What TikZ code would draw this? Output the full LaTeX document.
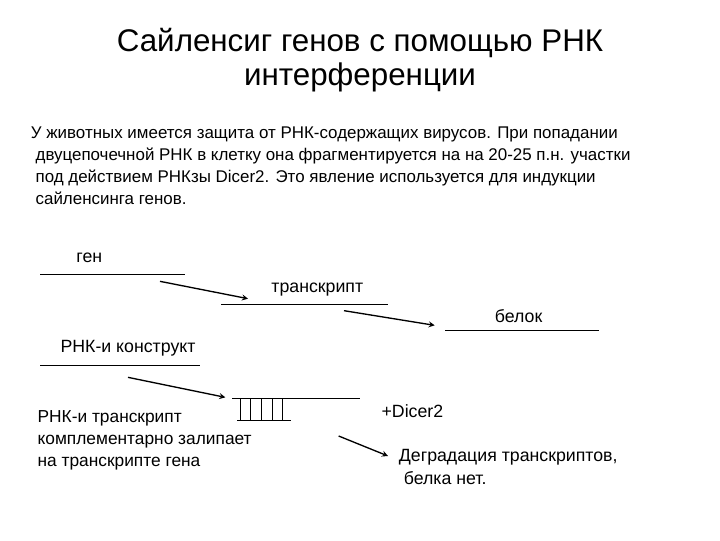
\documentclass[tikz,border=0pt]{standalone}
\usepackage{fontspec}
\setmainfont{Liberation Sans}
\begin{document}
\begin{tikzpicture}[x=1pt,y=-1pt,
  lbl/.style={inner sep=0pt,font=\fontsize{13.3}{16}\selectfont},
  ln/.style={line width=0.6pt},
  arr/.style={line width=1pt,-stealth}]
\useasboundingbox (0,0) rectangle (540,405);
\node[inner sep=0pt,align=center,font=\fontsize{23.5}{25}\selectfont] (title) at (270,45) {Сайленсиг генов с помощью РНК\\интерференции};
\node[inner sep=0pt,anchor=north west,align=left,font=\fontsize{12.7}{16.5}\selectfont] (body) at (23,95) {У животных имеется защита от РНК-содержащих вирусов. При попадании\\
\ двуцепочечной РНК в клетку она фрагментируется на на 20-25 п.н. участки\\
\ под действием РНКзы Dicer2. Это явление используется для индукции\\
\ сайленсинга генов.};
\node[lbl] (gen) at (67,193) {ген};
\coordinate (g1) at (30,206); \coordinate (g2) at (139,206);
\draw[ln] (g1) -- (g2);
\coordinate (a1s) at (120,211); \coordinate (a1e) at (186,224);
\draw[arr] (a1s) -- (a1e);
\node[lbl] (tr) at (238,217) {транскрипт};
\coordinate (t1) at (166,228); \coordinate (t2) at (291,228);
\draw[ln] (t1) -- (t2);
\coordinate (a2s) at (258,233); \coordinate (a2e) at (326,244);
\draw[arr] (a2s) -- (a2e);
\node[lbl] (bel) at (389,237) {белок};
\coordinate (b1) at (334,248); \coordinate (b2) at (449,248);
\draw[ln] (b1) -- (b2);
\node[lbl] (rk) at (96,261) {РНК-и конструкт};
\coordinate (r1) at (30,274); \coordinate (r2) at (150,274);
\draw[ln] (r1) -- (r2);
\coordinate (a3s) at (96,283); \coordinate (a3e) at (169,298);
\draw[arr] (a3s) -- (a3e);
\coordinate (d1) at (174,299); \coordinate (d2) at (270,299);
\coordinate (d3) at (178,315); \coordinate (d4) at (218,315);
\draw[ln] (d1) -- (d2);
\draw[ln] (d3) -- (d4);
\foreach \x in {180,188,196,204,212} \draw[ln] (\x,299) -- (\x,315);
\node[lbl,anchor=north west,align=left,font=\fontsize{13}{16.5}\selectfont] (rt) at (28,308) {РНК-и транскрипт\\комплементарно залипает\\на транскрипте гена};
\node[lbl,anchor=west] (dc) at (286,308) {+Dicer2};
\coordinate (a4s) at (254,327); \coordinate (a4e) at (291,342);
\draw[arr] (a4s) -- (a4e);
\node[lbl,anchor=north west,align=left,font=\fontsize{13.3}{17}\selectfont] (deg) at (299,337) {Деградация транскриптов,\\\ белка нет.};
\end{tikzpicture}
\end{document}
